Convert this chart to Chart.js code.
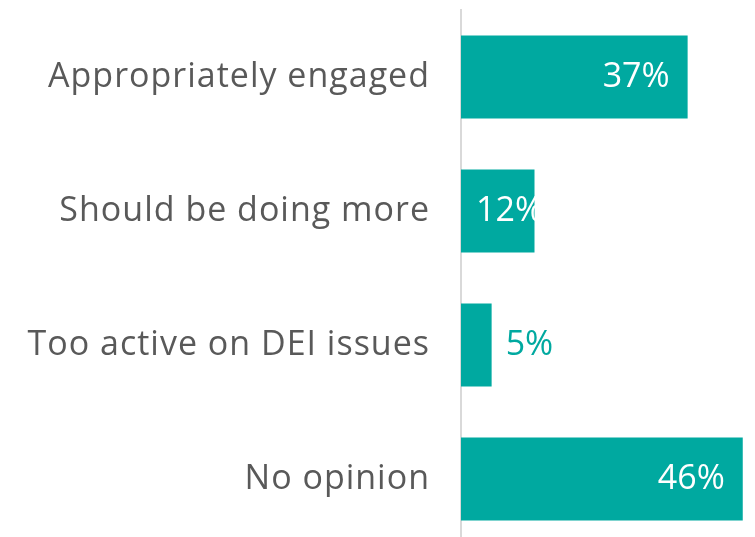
<!DOCTYPE html>
<html>
<head>
<meta charset="utf-8">
<script src="https://cdn.jsdelivr.net/npm/chart.js@4"></script>
<style>
    html, body { margin: 0; padding: 0; background: #fff; overflow: hidden; }
    .wrap { width: 755px; height: 537px; overflow: hidden; }
    canvas { display: block; }
</style>
</head>
<body>
<div class="wrap"><canvas id="chart" width="755" height="546"></canvas></div>
<script>
const categories = ['Appropriately engaged', 'Should be doing more', 'Too active on DEI issues', 'No opinion'];
const shares = [37, 12, 5, 46];

const TEAL = '#00a9a0';
const GREY = '#595959';
const FONT = '"Open Sans", sans-serif';

// widen the category labels a little (the original font is wider)
const spacing = {
    id: 'spacing',
    beforeDraw(chart) {
        chart.ctx.letterSpacing = '1px';
    }
};

// labels: inside end when the bar is long, inside start when short, outside when tiny
const barLabels = {
    id: 'barLabels',
    afterDatasetsDraw(chart) {
        const { ctx } = chart;
        const meta = chart.getDatasetMeta(0);
        ctx.save();
        ctx.letterSpacing = '0px';
        ctx.font = `34px ${FONT}`;
        ctx.textBaseline = 'middle';
        meta.data.forEach((bar, i) => {
            const text = `${shares[i]}%`;
            const w = bar.x - bar.base;
            if (w >= 100) {
                ctx.fillStyle = '#fff';
                ctx.textAlign = 'right';
                ctx.fillText(text, bar.x - 18, bar.y);
            } else if (w >= 50) {
                ctx.fillStyle = '#fff';
                ctx.textAlign = 'left';
                ctx.fillText(text, bar.base + 15, bar.y);
            } else {
                ctx.fillStyle = TEAL;
                ctx.textAlign = 'left';
                ctx.fillText(text, bar.x + 14, bar.y);
            }
        });
        ctx.restore();
    }
};

new Chart(document.getElementById('chart'), {
    type: 'bar',
    data: {
        labels: categories,
        datasets: [{
            data: shares,
            backgroundColor: TEAL,
            barPercentage: 0.62,
            categoryPercentage: 1
        }]
    },
    options: {
        indexAxis: 'y',
        responsive: false,
        animation: false,
        layout: { padding: { top: 10, right: 0, bottom: 0, left: 0 } },
        plugins: {
            legend: { display: false },
            tooltip: { enabled: false }
        },
        scales: {
            x: {
                display: false,
                min: 0,
                max: 48
            },
            y: {
                afterFit: (scale) => {
                    scale.width = 461;
                    scale.paddingTop = 0;
                    scale.paddingBottom = 0;
                },
                grid: { display: false, drawTicks: false },
                border: { display: true, color: '#d9d9d9', width: 2 },
                ticks: {
                    padding: 31,
                    color: GREY,
                    font: { family: FONT, size: 34 }
                }
            }
        }
    },
    plugins: [spacing, barLabels]
});
</script>
</body>
</html>
